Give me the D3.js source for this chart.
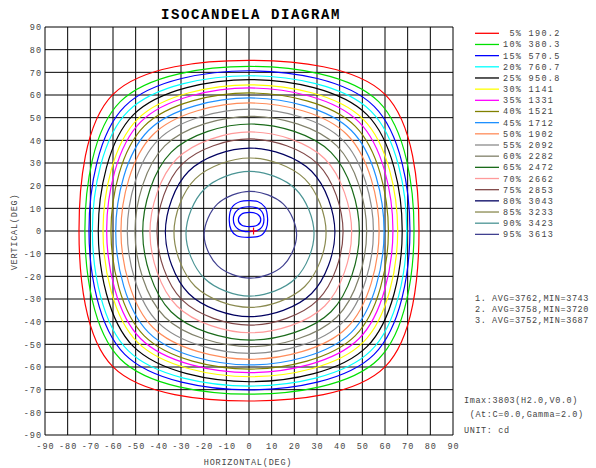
<!DOCTYPE html>
<html><head><meta charset="utf-8">
<script src="https://cdn.jsdelivr.net/npm/d3@7"></script>
<style>
html,body{margin:0;padding:0;background:#fff;}
svg{display:block;}
text{font-family:"Liberation Mono","Courier New",monospace;white-space:pre;}
</style></head>
<body>
<svg id="chart" width="596" height="468"></svg>
<script>
// ---- data ----
const levels = [5,10,15,20,25,30,35,40,45,50,55,60,65,70,75,80,85,90,95];
const candela = ["190.2","380.3","570.5","760.7","950.8","1141","1331","1521","1712","1902","2092","2282","2472","2662","2853","3043","3233","3423","3613"];
const colors = ["#ff0000","#00e000","#0000ff","#00ffff","#000000","#ffff00","#ff00ff","#808000","#1e90ff","#ff8c5a","#8c8c8c","#80806a","#1a6b1a","#ff9a9a","#804848","#000060","#8a8a50","#4a9494","#404090"];
// contour extents along the axes (degrees)
const rightX  = [75.0,72.8,71.0,69.6,67.6,65.6,63.5,61.5,59.6,57.4,54.9,51.9,48.7,45.3,41.5,37.9,34.0,28.7,21.0];
const leftX   = [-75.0,-72.4,-70.6,-69.1,-66.5,-64.4,-62.8,-60.9,-58.8,-56.5,-53.7,-50.3,-46.9,-43.7,-40.6,-36.9,-33.1,-27.8,-19.8];
const topY    = [75.3,72.6,70.7,68.5,66.8,64.5,63.1,60.9,58.7,56.5,53.8,50.6,47.2,43.7,40.6,36.6,32.2,26.3,17.5];
const bottomY = [-75.0,-72.0,-70.1,-68.4,-66.5,-64.3,-62.5,-60.9,-59.1,-56.6,-54.0,-51.0,-48.1,-44.9,-41.5,-37.8,-33.7,-28.7,-20.8];
// diagonal reach relative to axis reach (squareness)
const diagK   = [0.80,0.785,0.777,0.772,0.768,0.765,0.762,0.76,0.756,0.752,0.748,0.743,0.738,0.733,0.73,0.725,0.72,0.714,0.71];
// central rings (degrees)
const ringOuter  = [[-8.7,5.5],[-7.4,10.6],[-3.8,13.0],[0,13.4],[3.8,13.0],[7.0,10.6],[8.2,5.5],[7.6,1.0],[5.0,-2.1],[-5.4,-2.1],[-7.9,0.5]];
const ringMiddle = [[-6.9,5.0],[-5.0,9.3],[0,10.7],[5.0,9.3],[6.6,5.0],[5.0,1.0],[0,-0.3],[-5.0,1.0]];
const ringInner  = [[-4.7,5.0],[-3.3,7.4],[0.2,8.2],[3.8,7.4],[5.2,5.0],[3.8,2.6],[0.2,1.9],[-3.3,2.6]];
const imax = [2.0, 0.0];
const ticks = [-90,-80,-70,-60,-50,-40,-30,-20,-10,0,10,20,30,40,50,60,70,80,90];
const statLines = ["1. AVG=3762,MIN=3743","2. AVG=3758,MIN=3720","3. AVG=3752,MIN=3687"];
const infoLines = ["Imax:3803(H2.0,V0.0)"," (At:C=0.0,Gamma=2.0)","UNIT: cd"];

// ---- drawing ----
const svg = d3.select("#chart");
const x = d3.scaleLinear().domain([-90,90]).range([45,453]);
const y = d3.scaleLinear().domain([-90,90]).range([435,27]);

svg.append("text").attr("x",251).attr("y",19).attr("text-anchor","middle")
  .style("font-size","14px").style("font-weight","bold").style("letter-spacing","1.6px")
  .attr("fill","#000").text("ISOCANDELA DIAGRAM");

const grid = svg.append("g");
ticks.forEach(t=>{
  grid.append("line").attr("x1",x(t)).attr("x2",x(t)).attr("y1",y(90)).attr("y2",y(-90)).attr("stroke","#000").attr("stroke-width",1);
  grid.append("line").attr("y1",y(t)).attr("y2",y(t)).attr("x1",x(-90)).attr("x2",x(90)).attr("stroke","#000").attr("stroke-width",1);
});

const xAxis = svg.append("g").attr("transform",`translate(0,${y(-90)})`)
  .call(d3.axisBottom(x).tickValues(ticks).tickSize(0).tickPadding(7.5).tickFormat(d=>String(d)));
const yAxis = svg.append("g").attr("transform",`translate(${x(-90)},0)`)
  .call(d3.axisLeft(y).tickValues(ticks).tickSize(0).tickPadding(3).tickFormat(d=>String(d)));
[xAxis,yAxis].forEach(a=>{
  a.select(".domain").remove();
  a.selectAll("text").style("font-family","'Liberation Mono',monospace").style("font-size","8.5px").style("letter-spacing","1px").attr("fill","#444");
});

svg.append("text").attr("x",248).attr("y",465).attr("text-anchor","middle")
  .style("font-size","8.5px").style("letter-spacing","0.8px").attr("fill","#444").text("HORIZONTAL(DEG)");
svg.append("text").attr("transform","translate(17,232) rotate(-90)").attr("text-anchor","middle")
  .style("font-size","8.5px").style("letter-spacing","0.8px").attr("fill","#444").text("VERTICAL(DEG)");

// contours
const line = d3.line().x(d=>x(d[0])).y(d=>y(d[1])).curve(d3.curveCatmullRomClosed.alpha(0.5));
const cg = svg.append("g");
levels.forEach((lv,i)=>{
  const cx=(rightX[i]+leftX[i])/2, cy=(topY[i]+bottomY[i])/2, k=diagK[i];
  const pts=[
    [rightX[i],cy],
    [cx+(rightX[i]-cx)*k, cy+(topY[i]-cy)*k],
    [cx,topY[i]],
    [cx+(leftX[i]-cx)*k, cy+(topY[i]-cy)*k],
    [leftX[i],cy],
    [cx+(leftX[i]-cx)*k, cy+(bottomY[i]-cy)*k],
    [cx,bottomY[i]],
    [cx+(rightX[i]-cx)*k, cy+(bottomY[i]-cy)*k]
  ];
  cg.append("path").attr("d",line(pts)).attr("fill","none").attr("stroke",colors[i]).attr("stroke-width",1.2);
});
const ringLine = d3.line().x(d=>x(d[0])).y(d=>y(d[1])).curve(d3.curveCatmullRomClosed.alpha(0.5));
[ringOuter,ringMiddle,ringInner].forEach(r=>{
  cg.append("path").attr("d",ringLine(r)).attr("fill","none").attr("stroke","#0000ff").attr("stroke-width",1.2);
});
// Imax marker
svg.append("line").attr("x1",x(imax[0])-4).attr("x2",x(imax[0])+4).attr("y1",y(imax[1])).attr("y2",y(imax[1])).attr("stroke","#ff0000").attr("stroke-width",1.2);
svg.append("line").attr("x1",x(imax[0])).attr("x2",x(imax[0])).attr("y1",y(imax[1])-3.5).attr("y2",y(imax[1])+3.5).attr("stroke","#ff0000").attr("stroke-width",1.2);

// legend
const lg = svg.append("g");
levels.forEach((lv,i)=>{
  const yy = 33.3 + i*11.17;
  lg.append("line").attr("x1",475).attr("x2",499).attr("y1",yy).attr("y2",yy).attr("stroke",colors[i]).attr("stroke-width",1.3);
  const lab = (lv<10?" ":"")+lv+"% "+candela[i];
  lg.append("text").attr("x",503).attr("y",yy+3).style("font-size","8.5px").style("letter-spacing","1.3px").attr("fill","#444").text(lab);
});
statLines.forEach((s,i)=>{
  svg.append("text").attr("x",475).attr("y",301+i*11).style("font-size","8.5px").style("letter-spacing","0.6px").attr("fill","#444").text(s);
});
infoLines.forEach((s,i)=>{
  svg.append("text").attr("x",464).attr("y",[403,417,433][i]).style("font-size","8.5px").style("letter-spacing","0.6px").attr("fill","#444").text(s);
});
</script>
</body></html>
